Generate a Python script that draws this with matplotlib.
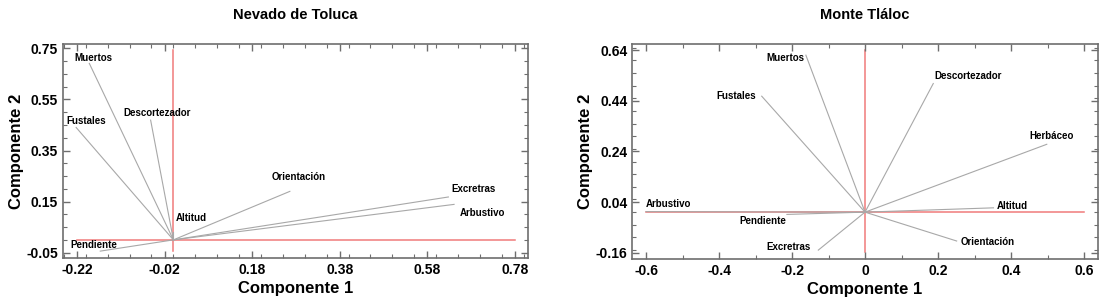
import matplotlib
matplotlib.use("Agg")
import matplotlib.pyplot as plt
from matplotlib.ticker import MultipleLocator, FixedLocator

plt.rcParams['font.family'] = ['Liberation Sans', 'DejaVu Sans']
plt.rcParams['font.weight'] = 'bold'

# Nevado de Toluca - cargas (componente 1, componente 2)
toluca_vars = ['Muertos', 'Fustales', 'Descortezador', 'Altitud', 'Pendiente',
               'Orientación', 'Excretras', 'Arbustivo']
toluca_c1 = [-0.192, -0.222, -0.052, 0.0, -0.167, 0.266, 0.628, 0.641]
toluca_c2 = [0.691, 0.440, 0.469, 0.030, -0.044, 0.190, 0.168, 0.139]
toluca_lab_x = [-0.225, -0.245, -0.115, 0.005, -0.236, 0.225, 0.634, 0.654]
toluca_lab_y = [0.712, 0.465, 0.496, 0.084, -0.022, 0.245, 0.200, 0.104]

# Monte Tláloc
tlaloc_vars = ['Muertos', 'Fustales', 'Descortezador', 'Herbáceo', 'Altitud',
               'Orientación', 'Excretras', 'Pendiente', 'Arbustivo']
tlaloc_c1 = [-0.162, -0.283, 0.187, 0.498, 0.352, 0.251, -0.128, -0.214, -0.600]
tlaloc_c2 = [0.620, 0.458, 0.508, 0.268, 0.017, -0.114, -0.150, -0.009, 0.002]
tlaloc_lab_x = [-0.27, -0.406, 0.189, 0.449, 0.362, 0.263, -0.27, -0.345, -0.60]
tlaloc_lab_y = [0.61, 0.46, 0.538, 0.30, 0.025, -0.117, -0.139, -0.036, 0.034]

RED = '#f07a7a'
GRAY = '#a8a8a8'
FRAME = '#6e6e6e'


def biplot(ax, title, names, c1, c2, lx, ly, xlim, ylim, xr, yr,
           xticks, yticks, xminor, yminor):
    ax.plot(xr, [0, 0], color=RED, lw=1.1, zorder=1)
    ax.plot([0, 0], yr, color=RED, lw=1.1, zorder=1)
    for x, y in zip(c1, c2):
        ax.plot([0, x], [0, y], color=GRAY, lw=0.8, zorder=2)
    for n, x, y in zip(names, lx, ly):
        ax.text(x, y, n, fontsize=7, fontweight='bold', va='center', ha='left')
    ax.set_xlim(xlim)
    ax.set_ylim(ylim)
    ax.xaxis.set_major_locator(FixedLocator(xticks))
    ax.yaxis.set_major_locator(FixedLocator(yticks))
    ax.xaxis.set_minor_locator(MultipleLocator(xminor))
    ax.yaxis.set_minor_locator(MultipleLocator(yminor))
    ax.tick_params(which='both', direction='in', top=True, right=True,
                   color=FRAME, labelsize=10)
    ax.tick_params(which='major', length=5, width=1)
    ax.tick_params(which='minor', length=3, width=0.8)
    for s in ax.spines.values():
        s.set_color(FRAME)
        s.set_linewidth(1.2)
    ax.set_xlabel('Componente 1', fontsize=12, fontweight='bold', labelpad=3)
    ax.set_ylabel('Componente 2', fontsize=12, fontweight='bold', labelpad=2)
    ax.set_title(title, fontsize=10.5, fontweight='bold', pad=18)


fig = plt.figure(figsize=(11.08, 3.08), dpi=100)
ax1 = fig.add_axes([0.0569, 0.1623, 0.4197, 0.6948])
ax2 = fig.add_axes([0.5707, 0.160, 0.4200, 0.6970])

biplot(ax1, 'Nevado de Toluca', toluca_vars, toluca_c1, toluca_c2,
       toluca_lab_x, toluca_lab_y,
       (-0.252, 0.81), (-0.071, 0.767), (-0.22, 0.78), (-0.045, 0.745),
       [-0.22, -0.02, 0.18, 0.38, 0.58, 0.78],
       [-0.05, 0.15, 0.35, 0.55, 0.75], 0.05, 0.05)
ax1.set_xticklabels(['-0.22', '-0.02', '0.18', '0.38', '0.58', '0.78'])
ax1.set_yticklabels(['-0.05', '0.15', '0.35', '0.55', '0.75'])

biplot(ax2, 'Monte Tláloc', tlaloc_vars, tlaloc_c1, tlaloc_c2,
       tlaloc_lab_x, tlaloc_lab_y,
       (-0.6375, 0.6375), (-0.184, 0.664), (-0.6, 0.6), (-0.156, 0.64),
       [-0.6, -0.4, -0.2, 0, 0.2, 0.4, 0.6],
       [-0.16, 0.04, 0.24, 0.44, 0.64], 0.1, 0.05)
ax2.set_xticklabels(['-0.6', '-0.4', '-0.2', '0', '0.2', '0.4', '0.6'])
ax2.set_yticklabels(['-0.16', '0.04', '0.24', '0.44', '0.64'])

fig.savefig('out.png', dpi=100)
